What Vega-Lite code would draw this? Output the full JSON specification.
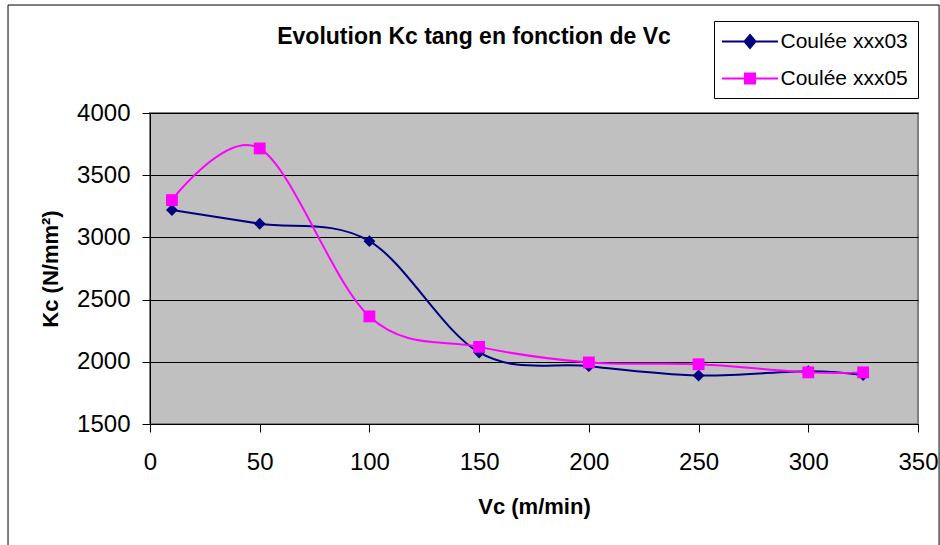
{
  "$schema": "https://vega.github.io/schema/vega-lite/v6.json",
  "width": 768,
  "height": 311,
  "autosize": {"type": "none"},
  "padding": {"left": 150, "top": 113, "right": 22, "bottom": 121},
  "background": "white",
  "config": {
    "font": "Liberation Sans",
    "view": {"fill": "#C0C0C0", "stroke": "#808080", "strokeWidth": 2},
    "axis": {
      "domainColor": "black", "domainWidth": 1,
      "tickColor": "black", "tickSize": 8, "tickWidth": 1,
      "labelFont": "Liberation Sans", "labelFontSize": 24, "labelColor": "black",
      "labelFlush": false, "labelOverlap": false,
      "titleFont": "Liberation Sans", "titleFontSize": 22, "titleFontWeight": "bold", "titleColor": "black",
      "gridColor": "black", "gridWidth": 1, "gridOpacity": 1
    },
    "axisX": {"grid": false, "labelPadding": 18, "titleY": 89, "titleBaseline": "alphabetic"},
    "axisY": {"grid": true, "labelPadding": 12, "titleX": -93, "titleY": 155.5, "titleBaseline": "alphabetic", "titleAngle": 270}
  },
  "title": {
    "text": "Evolution Kc tang en fonction de Vc",
    "font": "Liberation Sans", "fontSize": 23, "fontWeight": "bold", "color": "black",
    "frame": "group", "anchor": "middle", "baseline": "alphabetic", "offset": -62, "dx": -60
  },
  "data": {
    "values": [
      {"series": "Coulée xxx03", "vc": 10, "kc": 3220},
      {"series": "Coulée xxx03", "vc": 50, "kc": 3110},
      {"series": "Coulée xxx03", "vc": 100, "kc": 2970},
      {"series": "Coulée xxx03", "vc": 150, "kc": 2075},
      {"series": "Coulée xxx03", "vc": 200, "kc": 1965},
      {"series": "Coulée xxx03", "vc": 250, "kc": 1890},
      {"series": "Coulée xxx03", "vc": 300, "kc": 1925},
      {"series": "Coulée xxx03", "vc": 325, "kc": 1893},
      {"series": "Coulée xxx05", "vc": 10, "kc": 3300},
      {"series": "Coulée xxx05", "vc": 50, "kc": 3715},
      {"series": "Coulée xxx05", "vc": 100, "kc": 2365},
      {"series": "Coulée xxx05", "vc": 150, "kc": 2120},
      {"series": "Coulée xxx05", "vc": 200, "kc": 1995},
      {"series": "Coulée xxx05", "vc": 250, "kc": 1980},
      {"series": "Coulée xxx05", "vc": 300, "kc": 1915},
      {"series": "Coulée xxx05", "vc": 325, "kc": 1915}
    ]
  },
  "layer": [
    {
      "data": {"values": [{}]},
      "mark": {"type": "rect", "fill": "transparent", "stroke": "black", "strokeWidth": 1, "clip": false},
      "encoding": {
        "x": {"datum": -64.7, "type": "quantitative", "title": "Vc (m/min)"},
        "x2": {"datum": 359.6},
        "y": {"datum": 4868, "type": "quantitative", "title": "Kc (N/mm²)"},
        "y2": {"datum": 487}
      }
    },
    {
      "mark": {"type": "line", "interpolate": "cardinal", "strokeWidth": 2},
      "encoding": {
        "x": {"field": "vc", "type": "quantitative", "title": "Vc (m/min)",
              "scale": {"domain": [0, 350], "nice": false},
              "axis": {"values": [0, 50, 100, 150, 200, 250, 300, 350], "format": "d"}},
        "y": {"field": "kc", "type": "quantitative", "title": "Kc (N/mm²)",
              "scale": {"domain": [1500, 4000], "nice": false, "zero": false},
              "axis": {"values": [1500, 2000, 2500, 3000, 3500, 4000], "format": "d"}},
        "color": {
          "field": "series", "type": "nominal",
          "scale": {"domain": ["Coulée xxx03", "Coulée xxx05"], "range": ["#000080", "#FF00FF"]},
          "legend": {
            "title": null, "orient": "none", "legendX": 564, "legendY": -92,
            "fillColor": "white", "strokeColor": "black", "padding": 9.5,
            "symbolSize": 400, "symbolOffset": 15.5, "labelOffset": 19.5, "rowPadding": 15,
            "labelFont": "Liberation Sans", "labelFontSize": 21, "labelColor": "black", "labelLimit": 300,
            "symbolStrokeWidth": 2, "symbolOpacity": 1,
            "encode": {
              "symbols": {
                "update": {
                  "shape": {"signal": "datum.value === 'Coulée xxx03' ? 'M-2.8,0L2.8,0M0,-0.65L0.55,0L0,0.65L-0.55,0Z' : 'M-2.8,0L2.8,0M-0.5,-0.5L0.5,-0.5L0.5,0.5L-0.5,0.5Z'"}
                }
              }
            }
          }
        }
      }
    },
    {
      "transform": [{"filter": "datum.series === 'Coulée xxx03'"}],
      "mark": {"type": "point", "shape": "diamond", "filled": true, "opacity": 1, "size": 140, "strokeWidth": 0},
      "encoding": {
        "x": {"field": "vc", "type": "quantitative"},
        "y": {"field": "kc", "type": "quantitative"},
        "color": {"field": "series", "type": "nominal"}
      }
    },
    {
      "transform": [{"filter": "datum.series === 'Coulée xxx05'"}],
      "mark": {"type": "point", "shape": "square", "filled": true, "opacity": 1, "size": 140, "strokeWidth": 0},
      "encoding": {
        "x": {"field": "vc", "type": "quantitative"},
        "y": {"field": "kc", "type": "quantitative"},
        "color": {"field": "series", "type": "nominal"}
      }
    }
  ]
}
